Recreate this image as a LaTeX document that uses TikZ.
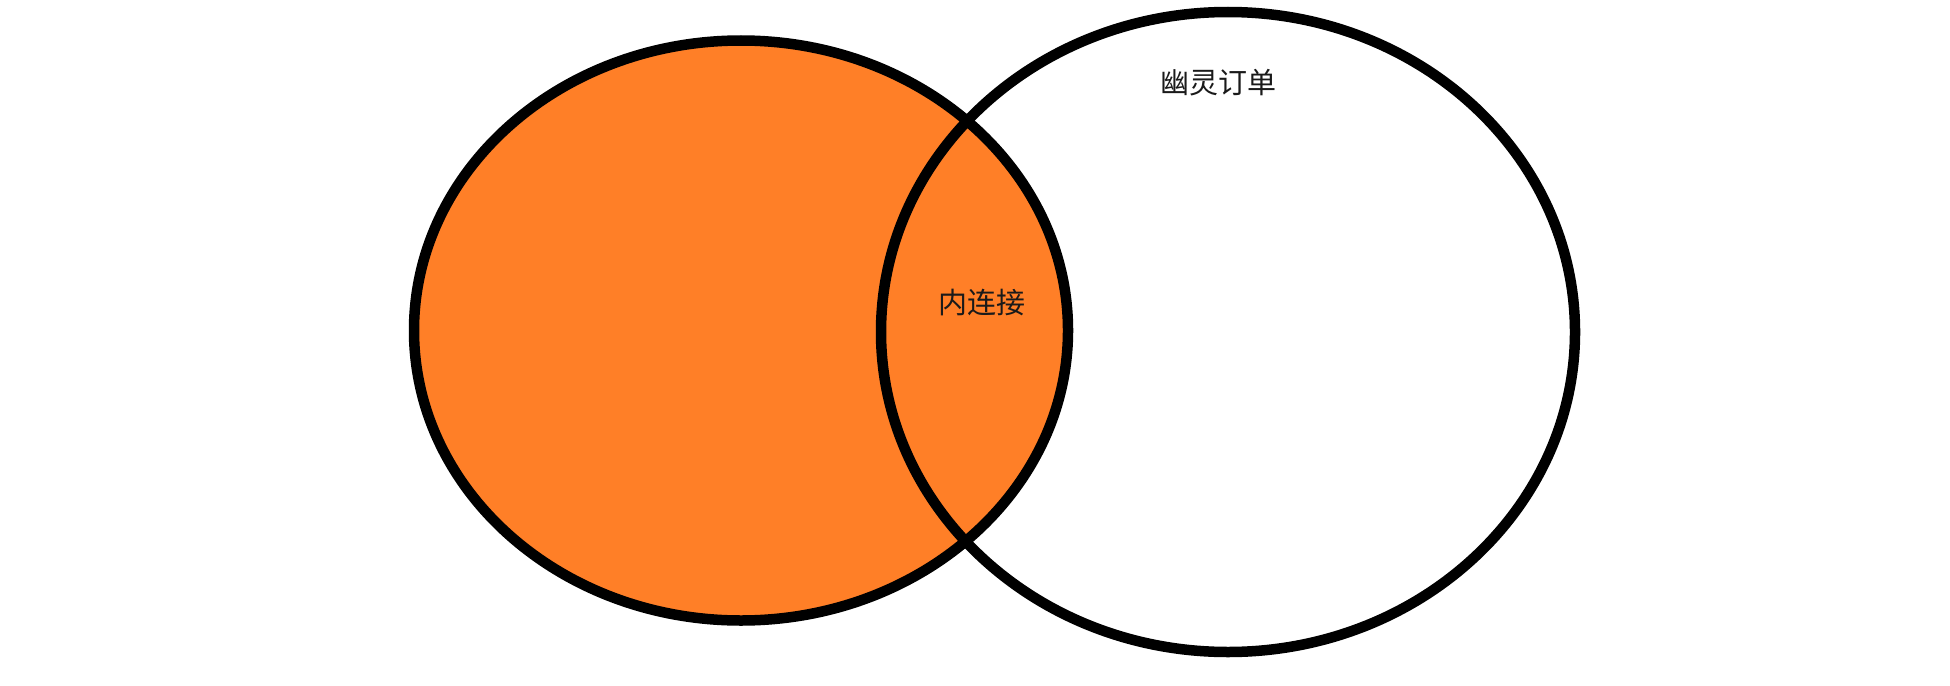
\documentclass[tikz,border=0pt]{standalone}
\usepackage{fontspec}
\newfontfamily\cjk{Noto Sans CJK SC}
\definecolor{paintorange}{HTML}{FF7F27}
\definecolor{labeltext}{HTML}{1A1A1A}
\begin{document}
\begin{tikzpicture}[x=1pt,y=-1pt,
  vennline/.style={line width=10.5pt,draw=black},
  vennlabel/.style={font=\cjk\fontsize{29}{34}\selectfont,text=labeltext,inner sep=0pt}]
\useasboundingbox (0,0) rectangle (1950,685);
\fill[white] (0,0) rectangle (1950,685);
% left set (filled)
\path[vennline,fill=paintorange] (741,330.5) ellipse [x radius=327,y radius=290];
% right set
\path[vennline] (1228,332) ellipse [x radius=347,y radius=320];
\node[vennlabel] (ghost) at (1218,83) {幽灵订单};
\node[vennlabel] (inner) at (982,303) {内连接};
\end{tikzpicture}
\end{document}
